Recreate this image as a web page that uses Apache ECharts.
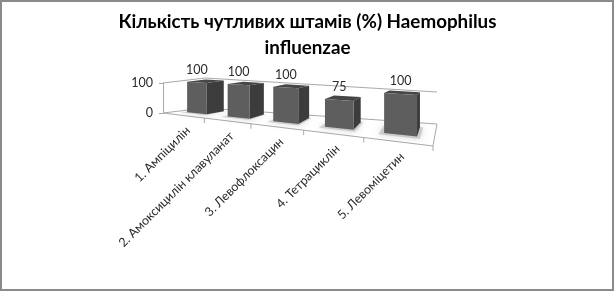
<!DOCTYPE html>
<html>
<head>
<meta charset="utf-8">
<script src="https://cdn.jsdelivr.net/npm/echarts@6/dist/echarts.min.js"></script>
<style>
  html, body { margin: 0; padding: 0; background: #fff; }
  #chart { width: 615px; height: 292px; }
</style>
</head>
<body>
<div id="chart"></div>
<script>
// Chart content
const titleText = 'Кількість чутливих штамів (%) Haemophilus\ninfluenzae';
const categories = [
  '1. Ампіцилін',
  '2. Амоксицилін клавуланат',
  '3. Левофлоксацин',
  '4. Тетрациклін',
  '5. Левоміцетин'
];
const susceptible = [100, 100, 100, 75, 100];
const valueAxisMax = 100;
const valueAxisStep = 100;

// Perspective box: the cartesian grid is the front edge of the left wall,
// the remaining corners of the floor are placed relative to it.
const FRONT_RIGHT = [433, 146];
const BACK_LEFT = [205, 108];
const BACK_RIGHT = [437, 124];
const HEIGHT_FR = 48, HEIGHT_BL = 30, HEIGHT_BR = 32;
const STRETCH = 1.38;          // foreshortening along the category direction
const BAR_FRAC = 0.5;          // bar width as a share of the category band
const BAR_Z0 = 0.35, BAR_Z1 = 0.8;

const lerp = (a, b, t) => a + (b - a) * t;

// u: 0..1 along categories, z: 0 (front) .. 1 (back), hf: 0..1 of value axis
function project(cs, u, z, hf) {
  const w = u / (STRETCH - (STRETCH - 1) * u);
  const fl = [cs.x, cs.y + cs.height];
  const fx = lerp(fl[0], FRONT_RIGHT[0], w), fy = lerp(fl[1], FRONT_RIGHT[1], w);
  const bx = lerp(BACK_LEFT[0], BACK_RIGHT[0], w), by = lerp(BACK_LEFT[1], BACK_RIGHT[1], w);
  const h = lerp(lerp(cs.height, HEIGHT_FR, w), lerp(HEIGHT_BL, HEIGHT_BR, w), z);
  return [lerp(fx, bx, z), lerp(fy, by, z) - h * hf];
}

const LINE = '#a9a9a9';
const TEXT = '#2b2b2b';
const FONT_FAMILY = 'Lato, "Open Sans", sans-serif';
const FONT = '12.5px ' + FONT_FAMILY;

function renderFrame(params, api) {
  const cs = params.coordSys;
  const seg = (a, b) => ({
    type: 'line',
    shape: { x1: a[0], y1: a[1], x2: b[0], y2: b[1] },
    style: { stroke: LINE, lineWidth: 1 },
    silent: true
  });
  const P = (u, z, hf) => project(cs, u, z, hf);
  const children = [
    seg(P(0, 0, 1), P(0, 1, 1)),
    seg(P(0, 0, 0), P(0, 1, 0)),
    seg(P(0, 1, 1), P(1, 1, 1)),
    seg(P(0, 1, 0), P(1, 1, 0)),
    seg(P(0, 0, 0), P(1, 0, 0)),
    seg(P(1, 0, 0), P(1, 1, 0))
  ];
  const n = categories.length;
  for (let k = 1; k <= n; k++) {
    const p = P(k / n, 0, 0);
    children.push(seg(p, [p[0], p[1] + 5]));
  }
  return { type: 'group', children };
}

function renderBar(params, api) {
  const cs = params.coordSys;
  const idx = api.value(0);
  const val = api.value(1);
  const base = api.coord([idx, 0]);
  const top = api.coord([idx, val]);
  const band = api.size([1, 0])[0];
  const uc = (base[0] - cs.x) / cs.width;
  const du = (band * BAR_FRAC / 2) / cs.width;
  const u0 = uc - du, u1 = uc + du;
  const hf = (base[1] - top[1]) / cs.height;
  const P = (u, z, h) => project(cs, u, z, h);
  const poly = (pts, style) => ({ type: 'polygon', shape: { points: pts }, style, silent: true });

  const a0 = P(u0, BAR_Z0, 0), a1 = P(u1, BAR_Z0, 0), a2 = P(u1, BAR_Z1, 0);
  const t0 = P(u0, BAR_Z0, hf), t1 = P(u1, BAR_Z0, hf), t2 = P(u1, BAR_Z1, hf), t3 = P(u0, BAR_Z1, hf);

  const shadow = poly([P(u0 - du * 0.3, BAR_Z0 - 0.1, 0), P(u1 + du * 0.2, BAR_Z0 - 0.1, 0),
                       P(u1 + du * 0.2, BAR_Z1, 0), P(u0 - du * 0.3, BAR_Z1, 0)],
                      { fill: 'rgba(150,150,150,0.35)', shadowBlur: 6, shadowColor: 'rgba(120,120,120,0.8)' });
  const side = poly([a1, a2, t2, t1], { fill: '#3c3c3c' });
  const topFace = poly([t0, t1, t2, t3], { fill: '#464646' });
  const front = poly([a0, a1, t1, t0], { fill: '#5e5e5e' });

  const labelPt = [(t0[0] + t1[0]) / 2, Math.min(t0[1], t1[1]) - 12];
  const valueLabel = {
    type: 'text', x: labelPt[0], y: labelPt[1], silent: true,
    style: { text: String(val), fill: TEXT, font: FONT, align: 'center', verticalAlign: 'middle' }
  };

  const edge = P(uc, 0, 0);
  const catLabel = {
    type: 'text', x: edge[0] + 5, y: edge[1] + 13, rotation: Math.PI / 4, silent: true,
    style: { text: categories[idx], fill: TEXT, font: FONT, align: 'right', verticalAlign: 'middle' }
  };

  return { type: 'group', children: [shadow, side, topFace, front, valueLabel, catLabel] };
}

const chart = echarts.init(document.getElementById('chart'), null, { renderer: 'canvas' });
chart.setOption({
  animation: false,
  backgroundColor: '#ffffff',
  title: {
    text: titleText,
    left: 'center',
    top: 4,
    textStyle: { fontFamily: FONT_FAMILY, fontWeight: 'bold', fontSize: 18.8, color: '#000', lineHeight: 26 }
  },
  graphic: [{
    type: 'rect', silent: true, z: 100,
    shape: { x: 1, y: 1, width: 612, height: 289 },
    style: { fill: 'none', stroke: '#8a8a8a', lineWidth: 2 }
  }],
  grid: { left: 163, top: 83, width: 270, height: 30, containLabel: false },
  xAxis: {
    type: 'category',
    data: categories,
    show: false
  },
  yAxis: {
    type: 'value',
    min: 0,
    max: valueAxisMax,
    interval: valueAxisStep,
    axisLine: { show: true, lineStyle: { color: LINE } },
    axisTick: { show: true, length: 4, lineStyle: { color: LINE } },
    axisLabel: { color: TEXT, fontSize: 12.5, fontFamily: FONT_FAMILY, margin: 10 },
    splitLine: { show: false }
  },
  series: [
    {
      type: 'custom',
      name: 'frame',
      renderItem: renderFrame,
      data: [[0, 0]],
      z: 1,
      silent: true
    },
    {
      type: 'custom',
      name: 'Кількість чутливих штамів (%)',
      renderItem: renderBar,
      data: susceptible.map((v, i) => [i, v]),
      encode: { x: 0, y: 1 },
      z: 2,
      clip: false
    }
  ]
});
</script>
</body>
</html>
